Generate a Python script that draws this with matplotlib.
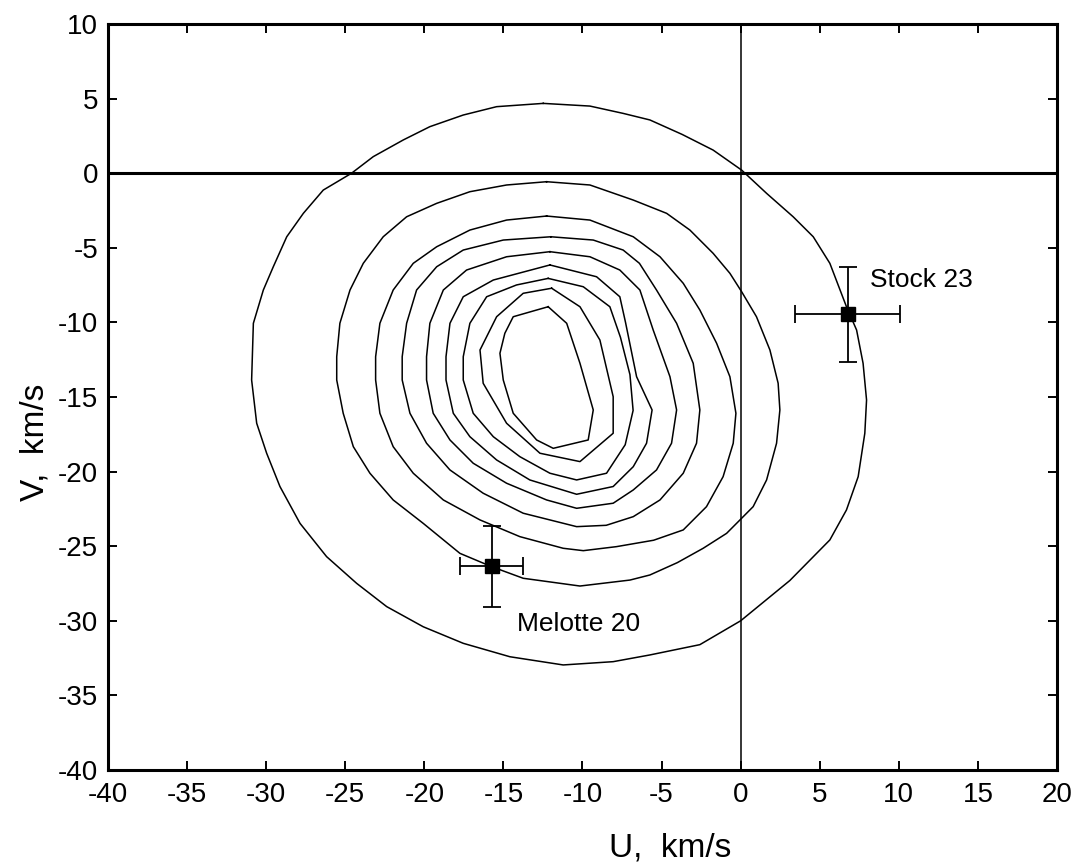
import matplotlib
matplotlib.use("Agg")
import matplotlib.pyplot as plt

# contornos (U, V em km/s), do externo para o interno
c1_u = [-12.48, -9.53, -7.43, -5.74, -3.7, -1.74, 0.06, 1.64, 3.32, 4.59, 5.64, 6.69, 7.33, 7.74, 7.96, 7.85, 7.43, 6.69, 5.64, 3.11, 0.0, -2.58, -5.74, -8.06, -11.22, -14.59, -17.54, -20.07, -22.38, -24.28, -26.18, -27.86, -29.13, -29.97, -30.6, -30.92, -30.81, -30.18, -29.55, -28.7, -27.65, -26.39, -24.6, -23.23, -21.33, -19.65, -17.54, -15.43]
c1_v = [4.68, 4.5, 4.01, 3.57, 2.6, 1.55, 0.21, -1.35, -2.92, -4.26, -6.04, -8.95, -10.51, -12.74, -15.2, -17.43, -20.34, -22.57, -24.58, -27.3, -30.0, -31.6, -32.29, -32.74, -32.96, -32.41, -31.51, -30.4, -29.05, -27.49, -25.7, -23.47, -21.0, -18.77, -16.76, -13.86, -10.06, -7.83, -6.27, -4.26, -2.69, -1.13, 0.0, 1.11, 2.23, 3.12, 3.9, 4.46]

c2_u = [-12.27, -9.53, -6.79, -4.68, -3.21, -1.74, -0.68, 0.06, 1.0, 1.85, 2.37, 2.48, 2.27, 1.64, 0.79, 0.06, -0.89, -2.37, -4.0, -5.74, -7.0, -10.16, -13.75, -15.75, -17.75, -20.07, -21.97, -23.44, -24.49, -25.13, -25.54, -25.54, -25.34, -24.7, -23.86, -22.6, -21.12, -19.22, -17.12, -14.8]
c2_v = [-0.57, -0.79, -1.8, -2.69, -3.81, -5.37, -6.71, -7.94, -9.62, -11.85, -14.08, -15.87, -18.1, -20.56, -22.35, -23.13, -24.14, -25.14, -26.1, -26.93, -27.27, -27.67, -27.15, -26.37, -25.48, -23.47, -21.9, -20.11, -18.33, -16.09, -13.86, -12.3, -10.06, -7.83, -6.04, -4.26, -2.92, -2.02, -1.24, -0.79]

c3_u = [-12.27, -9.53, -6.79, -5.1, -3.63, -2.58, -1.52, -0.68, -0.3, -0.47, -1.11, -2.16, -3.63, -5.5, -7.85, -9.95, -11.22, -13.96, -16.48, -18.8, -20.7, -21.97, -22.81, -23.08, -23.08, -22.81, -21.97, -20.7, -19.22, -17.12, -14.8]
c3_v = [-2.87, -3.14, -4.26, -5.6, -7.38, -9.17, -11.4, -13.64, -16.09, -18.1, -20.34, -22.35, -23.91, -24.6, -25.03, -25.3, -25.14, -24.36, -23.24, -21.9, -20.11, -18.33, -16.09, -13.86, -12.3, -10.06, -7.83, -6.04, -4.93, -3.81, -3.14]

c4_u = [-12.0, -9.32, -7.43, -6.4, -5.32, -4.05, -3.0, -2.58, -2.79, -3.63, -5.1, -6.79, -8.5, -10.37, -13.75, -16.28, -18.38, -19.86, -20.91, -21.4, -21.4, -21.12, -20.49, -19.22, -17.54, -15.01]
c4_v = [-4.26, -4.48, -5.15, -6.04, -7.83, -10.06, -12.74, -15.87, -18.1, -20.11, -21.9, -23.02, -23.6, -23.69, -22.79, -21.45, -19.89, -18.1, -16.09, -13.86, -12.3, -10.06, -7.83, -6.27, -5.15, -4.48]

c5_u = [-12.06, -9.53, -7.64, -6.37, -5.53, -4.47, -4.05, -4.37, -5.32, -6.79, -8.06, -10.37, -12.27, -14.8, -16.91, -18.38, -19.44, -19.86, -19.86, -19.65, -18.8, -17.33, -14.8]
c5_v = [-5.26, -5.6, -6.49, -7.83, -10.51, -13.64, -15.87, -18.1, -19.89, -21.23, -22.12, -22.46, -21.9, -20.78, -19.44, -17.88, -16.09, -13.86, -12.3, -10.06, -7.83, -6.49, -5.6]

c6_u = [-12.06, -9.11, -7.64, -7.28, -6.58, -5.6, -5.95, -6.79, -8.06, -10.37, -13.33, -15.43, -17.12, -18.17, -18.63, -18.63, -18.38, -17.54, -15.64]
c6_v = [-6.15, -6.94, -8.28, -10.0, -13.64, -15.87, -18.1, -19.67, -21.0, -21.52, -20.56, -19.22, -17.66, -16.09, -13.86, -12.3, -10.06, -8.28, -7.16]

c7_u = [-12.17, -9.95, -8.27, -7.6, -7.0, -6.8, -7.3, -8.48, -10.37, -12.06, -13.96, -15.64, -16.91, -17.54, -17.54, -17.12, -16.06, -14.17]
c7_v = [-7.05, -7.61, -8.95, -11.0, -13.5, -15.9, -18.2, -20.11, -20.56, -20.11, -19.0, -17.66, -16.09, -13.86, -12.3, -10.06, -8.28, -7.49]

c8_u = [-11.95, -10.16, -8.9, -8.06, -8.06, -10.16, -12.69, -14.8, -16.28, -16.48, -15.43, -13.75]
c8_v = [-7.71, -8.95, -11.18, -14.98, -17.43, -19.33, -18.77, -16.76, -14.08, -11.85, -9.62, -8.05]

c9_u = [-12.17, -11.0, -10.16, -9.32, -9.64, -11.85, -12.9, -14.38, -15.01, -15.22, -14.91, -14.38, -12.9]
c9_v = [-8.95, -10.06, -12.74, -15.87, -17.88, -18.44, -17.88, -16.09, -13.86, -12.07, -10.73, -9.62, -9.17]

contornos = [(c1_u, c1_v), (c2_u, c2_v), (c3_u, c3_v), (c4_u, c4_v), (c5_u, c5_v),
             (c6_u, c6_v), (c7_u, c7_v), (c8_u, c8_v), (c9_u, c9_v)]

# aglomerados
nomes = ["Stock 23", "Melotte 20"]
ag_u = [6.76, -15.75]
ag_v = [-9.46, -26.35]
ag_eu = [3.3, 2.0]
ag_ev = [3.2, 2.7]
rot_u = [8.17, -14.15]
rot_v = [-7.16, -30.2]

plt.rcParams['font.family'] = ['Liberation Sans', 'DejaVu Sans']
plt.rcParams['axes.unicode_minus'] = False

fig = plt.figure(figsize=(10.78, 8.67), dpi=100)
ax = fig.add_axes([0.1002, 0.1119, 0.8803, 0.8604])

for cu, cv in contornos:
    ax.plot(cu + cu[:1], cv + cv[:1], color='black', lw=1.1)

ax.axhline(0, color='black', lw=2.2)
ax.axvline(0, color='black', lw=1.1)

ax.errorbar(ag_u, ag_v, xerr=ag_eu, yerr=ag_ev, fmt='s', color='black',
            ms=9.5, capsize=6.6, elinewidth=1.3, capthick=1.3)
for nome, x, y in zip(nomes, rot_u, rot_v):
    ax.text(x, y, nome, fontsize=19, va='center', ha='left')

ax.set_xlim(-40, 20)
ax.set_ylim(-40, 10)
ax.set_xticks(range(-40, 21, 5))
ax.set_yticks(range(-40, 11, 5))
ax.tick_params(direction='in', top=True, right=True, length=6.5, width=1.4, labelsize=20)
ax.tick_params(axis='x', pad=9)
ax.tick_params(axis='y', pad=7)
for s in ax.spines.values():
    s.set_linewidth(2.2)

fig.text(0.6215, 0.0219, "U,  km/s", fontsize=24, ha='center', va='center')
fig.text(0.0325, 0.4902, "V,  km/s", fontsize=24, ha='center', va='center', rotation=90)

plt.savefig("out.png", dpi=100)
